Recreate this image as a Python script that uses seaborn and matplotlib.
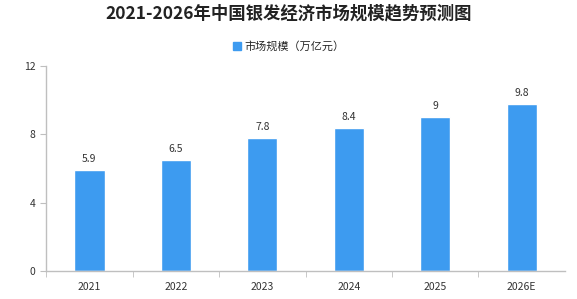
import pandas as pd
import matplotlib.pyplot as plt
import seaborn as sns
from matplotlib.patches import Patch

years = ['2021', '2022', '2023', '2024', '2025', '2026E']
market_size = [5.9, 6.5, 7.8, 8.4, 9, 9.8]
value_labels = ['5.9', '6.5', '7.8', '8.4', '9', '9.8']
series_name = '市场规模（万亿元）'
title = '2021-2026年中国银发经济市场规模趋势预测图'

df = pd.DataFrame({'year': years, 'size': market_size})

sns.set_style('white')
plt.rcParams['font.family'] = ['Noto Sans CJK SC', 'DejaVu Sans']

bar_color = '#3d9bf0'
axis_color = '#bfbfbf'

fig = plt.figure(figsize=(5.77, 2.99), dpi=100)
ax = fig.add_axes([0.08, 0.094, 0.899, 0.685])

sns.barplot(data=df, x='year', y='size', color=bar_color, width=0.35,
            saturation=1, ax=ax)

for i, lab in enumerate(value_labels):
    ax.text(i, market_size[i] + 0.35, lab, ha='center', va='bottom',
            fontsize=7.5, color='#333333')

ax.set_xlim(-0.5, 5.5)
ax.set_ylim(0, 12)
ax.set_yticks([0, 4, 8, 12])
ax.set_xlabel('')
ax.set_ylabel('')
ax.set_xticks(range(len(years)))
ax.set_xticklabels(years)
ax.set_xticks([i - 0.5 for i in range(len(years))], minor=True)

for s in ['top', 'right']:
    ax.spines[s].set_visible(False)
for s in ['left', 'bottom']:
    ax.spines[s].set_color(axis_color)
    ax.spines[s].set_linewidth(1)

ax.tick_params(axis='x', which='major', length=0, labelsize=7.5,
               colors='#333333', pad=8)
ax.tick_params(axis='x', which='minor', length=4, color=axis_color,
               direction='out', bottom=True)
ax.tick_params(axis='y', length=4, color=axis_color, labelsize=7.5,
               colors='#333333', left=True)

fig.text(0.5, 0.955, title, ha='center', va='center', fontsize=12.5,
         fontweight='bold', color='#222222')
fig.legend(handles=[Patch(color=bar_color, label=series_name)],
           loc='center', bbox_to_anchor=(0.5, 0.845), frameon=False,
           fontsize=8, handlelength=0.7, handleheight=0.7,
           handletextpad=0.3)

fig.savefig('out.png', dpi=100)
